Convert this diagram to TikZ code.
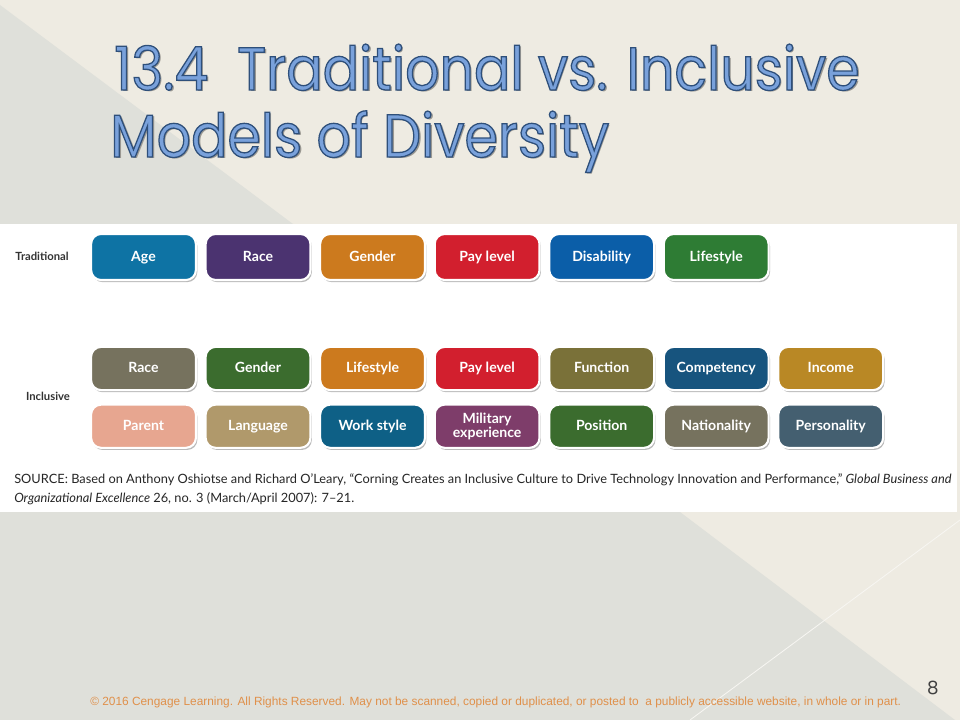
\documentclass[tikz,border=0pt]{standalone}
\usepackage{fontspec}
\setmainfont{Lato}
\newfontfamily\titlefont[FakeStretch=0.89]{Poppins}
\newfontfamily\numfont{Poppins}
\newfontfamily\footfont{Liberation Sans}
\usetikzlibrary{positioning,shadows}

\definecolor{bgbeige}{HTML}{EEEBE2}
\definecolor{bggray}{HTML}{DFE0DA}
\definecolor{titleblue}{HTML}{79A1DB}
\definecolor{titleshade}{HTML}{9A9892}
\definecolor{footorange}{HTML}{E0904A}
\definecolor{cAge}{HTML}{0E73A4}
\definecolor{cPurple}{HTML}{4B3370}
\definecolor{cOrange}{HTML}{CC7A1E}
\definecolor{cRed}{HTML}{D21F2E}
\definecolor{cBlue}{HTML}{0B5EA8}
\definecolor{cGreen}{HTML}{2E7C34}
\definecolor{cGrayOl}{HTML}{76725E}
\definecolor{cDkGreen}{HTML}{3B6C2E}
\definecolor{cOlive}{HTML}{7A7139}
\definecolor{cNavy}{HTML}{17547E}
\definecolor{cGold}{HTML}{B98825}
\definecolor{cSalmon}{HTML}{E7A690}
\definecolor{cTan}{HTML}{B0996B}
\definecolor{cTeal}{HTML}{0E6086}
\definecolor{cPlum}{HTML}{7E3D6A}
\definecolor{cSlate}{HTML}{445F70}

% outlined title text (fill and stroke)
\newcommand{\outlined}[1]{\special{pdf:literal direct 0.18 0.31 0.48 RG 2 Tr 0.9 w}#1\special{pdf:literal direct 0 Tr}}

\tikzset{
  tag/.style={rectangle, rounded corners=0.25cm, draw=white, line width=1.5pt,
    text=white, font=\bfseries\fontsize{10}{10}\selectfont, align=center,
    minimum width=2.62cm, text height=1.6ex, text depth=0.45ex,
    drop shadow={shadow xshift=1pt, shadow yshift=-1.5pt, opacity=0.45, fill=black!60}},
  tradtag/.style={tag, minimum height=1.15cm},
  incltag/.style={tag, minimum height=1.08cm},
  rowlabel/.style={text=black!80, font=\bfseries\fontsize{8}{9}\selectfont},
  titletext/.style={font=\titlefont\fontsize{43}{48}\selectfont, inner sep=0pt},
  srctext/.style={text=black!85, font=\fontsize{9.1}{10}\selectfont, inner sep=0pt}
}

\begin{document}
\begin{tikzpicture}[x=0.025cm, y=-0.025cm, node distance=0.19cm]
\useasboundingbox (0,0) rectangle (960,720);

% background
\fill[bgbeige] (0,0) rectangle (960,720);
\fill[bggray] (0,5) -- (293,224) -- (0,224) -- cycle;
\fill[bggray] (0,512) -- (680,512) -- (955,720) -- (0,720) -- cycle;
\draw[white!55!bgbeige, line width=0.6pt] (690,720) -- (960,520);
\fill[white] (0,224) rectangle (957,512);

% title
\node[titletext, anchor=base west, text=titleshade] (title1s) at (116,92) {13.4\ \ Traditional vs. Inclusive};
\node[titletext, anchor=base west, text=titleshade] (title2s) at (112,159) {Models of Diversity};
\node[titletext, anchor=base west, text=titleblue] (title1) at (114,90) {\outlined{13.4\ \ Traditional vs. Inclusive}};
\node[titletext, anchor=base west, text=titleblue] (title2) at (110,157) {\outlined{Models of Diversity}};

% traditional model
\node[rowlabel] (trad) at (42,256) {Traditional};
\node[tradtag, fill=cAge] (tAge) at (143.5,257) {Age};
\node[tradtag, fill=cPurple, right=of tAge] (tRace) {Race};
\node[tradtag, fill=cOrange, right=of tRace] (tGender) {Gender};
\node[tradtag, fill=cRed, right=of tGender] (tPay) {Pay level};
\node[tradtag, fill=cBlue, right=of tPay] (tDisab) {Disability};
\node[tradtag, fill=cGreen, right=of tDisab] (tLife) {Lifestyle};

% inclusive model
\node[rowlabel] (incl) at (48,396) {Inclusive};
\node[incltag, fill=cGrayOl] (iRace) at (143.5,368.5) {Race};
\node[incltag, fill=cDkGreen, right=of iRace] (iGender) {Gender};
\node[incltag, fill=cOrange, right=of iGender] (iLife) {Lifestyle};
\node[incltag, fill=cRed, right=of iLife] (iPay) {Pay level};
\node[incltag, fill=cOlive, right=of iPay] (iFunc) {Function};
\node[incltag, fill=cNavy, right=of iFunc] (iComp) {Competency};
\node[incltag, fill=cGold, right=of iComp] (iIncome) {Income};

\node[incltag, fill=cSalmon, below=0.31cm of iRace] (iParent) {Parent};
\node[incltag, fill=cTan, right=of iParent] (iLang) {Language};
\node[incltag, fill=cTeal, right=of iLang] (iWork) {Work style};
\node[incltag, fill=cPlum, right=of iWork, text height=, text depth=,
      font=\bfseries\fontsize{10}{8.5}\selectfont] (iMil) {Military\\experience};
\node[incltag, fill=cDkGreen, right=of iMil] (iPos) {Position};
\node[incltag, fill=cGrayOl, right=of iPos] (iNat) {Nationality};
\node[incltag, fill=cSlate, right=of iNat] (iPers) {Personality};

% source
\node[srctext, anchor=base west] (src1) at (14,484) {SOURCE: Based on Anthony Oshiotse and Richard O'Leary, ``Corning Creates an Inclusive Culture to Drive Technology Innovation and Performance,'' \textit{Global Business and}};
\node[srctext, anchor=base west] (src2) at (14,503) {\textit{Organizational Excellence} 26, no. 3 (March/April 2007): 7--21.};

% footer
\node[anchor=base west, inner sep=0pt, text=footorange, font=\footfont\fontsize{8.45}{9}\selectfont] (copy) at (90,705) {\textcopyright{} 2016 Cengage Learning. All Rights Reserved. May not be scanned, copied or duplicated, or posted to\ \ a publicly accessible website, in whole or in part.};
\node[text=black!75, font=\numfont\fontsize{13}{14}\selectfont] (pnum) at (933,688) {8};
\end{tikzpicture}
\end{document}
